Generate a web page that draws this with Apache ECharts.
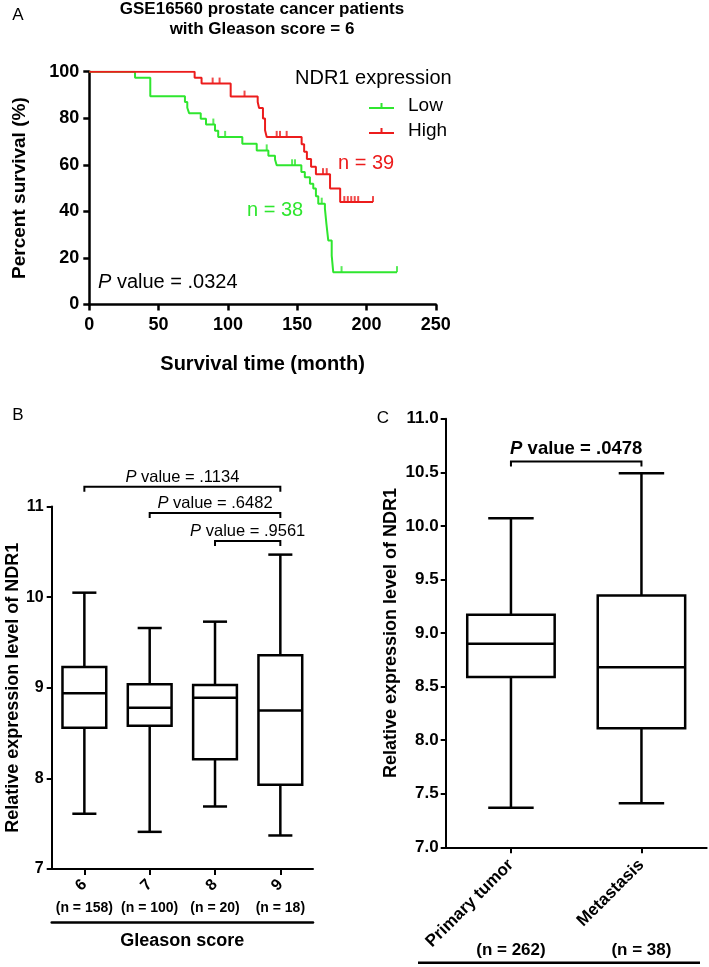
<!DOCTYPE html>
<html><head><meta charset="utf-8">
<script src="https://cdn.jsdelivr.net/npm/echarts@6/dist/echarts.min.js"></script>
<style>html,body{margin:0;padding:0;background:#fff}#c{width:709px;height:967px}</style>
</head><body><div id="c"></div>
<script>
const FONT = '"Liberation Sans", Arial, Helvetica, sans-serif';
const GREEN = '#2fe62f';
const RED = '#ec1c1c';

// ---------- Panel A: Kaplan-Meier ----------
const lowTimes  = [0, 33, 44, 69, 70.7, 72, 80.4, 84.2, 90.7, 93, 110.4, 120.8, 129.2, 134, 135.2, 153, 155.5, 159.2, 161.6, 163.5, 165.2, 170, 171.1, 172.4, 174.9, 176, 222];
const lowSurv   = [100, 97.4, 89.5, 87.0, 84.5, 82.2, 79.8, 77.3, 74.6, 72.0, 69.1, 66.2, 63.9, 62.3, 59.8, 56.9, 54.7, 51.9, 49.8, 46.5, 43.3, 41.2, 34.5, 27.5, 21.0, 13.9, 13.9];
const lowCensor = [89.5, 98, 128, 146.3, 148.4, 167.7, 182, 222];

const highTimes  = [0, 76, 81, 102, 121.5, 122.5, 125.3, 126.8, 128, 153.2, 155, 157, 160, 163.5, 173.7, 181, 204.7];
const highSurv   = [100, 97.4, 94.9, 89.3, 87.0, 84.4, 79.9, 74.8, 72.0, 68.8, 65.6, 62.5, 59.2, 56.0, 49.8, 44.0, 44.0];
const highCensor = [89, 94, 112, 135.2, 137.6, 142.4, 168.6, 171.3, 184, 186.5, 189, 191.5, 194, 204.7];

// ---------- Panel B: Gleason score boxplots ----------
const gleasonCats = ['6', '7', '8', '9'];
const gleasonN    = ['(n = 158)', '(n = 100)', '(n = 20)', '(n = 18)'];
const gMin = [7.61, 7.41, 7.69, 7.37];
const gQ1  = [8.56, 8.58, 8.21, 7.93];
const gMed = [8.94, 8.78, 8.89, 8.75];
const gQ3  = [9.23, 9.04, 9.03, 9.36];
const gMax = [10.05, 9.66, 9.73, 10.47];
const gPFrom  = [0, 1, 2];
const gPTo    = [3, 3, 3];
const gPLevel = [11.22, 10.93, 10.62];
const gPText  = ['.1134', '.6482', '.9561'];

// ---------- Panel C: Primary vs Metastasis ----------
const tissueCats = ['Primary tumor', 'Metastasis'];
const tissueN    = ['(n = 262)', '(n = 38)'];
const tMin = [7.37, 7.41];
const tQ1  = [8.59, 8.11];
const tMed = [8.90, 8.68];
const tQ3  = [9.17, 9.35];
const tMax = [10.07, 10.49];
const tPFrom = [0], tPTo = [1], tPLevel = [10.60], tPText = ['.0478'];

function stepAt(times, surv, t) {
  let s = surv[0];
  for (let i = 0; i < times.length; i++) if (times[i] <= t) s = surv[i];
  return s;
}

function makeBox(lw, boxFrac, capFrac) {
  return function (params, api) {
    const c = api.value(0);
    const mn = api.value(1), q1 = api.value(2), md = api.value(3), q3 = api.value(4), mx = api.value(5);
    const band = api.size([1, 0])[0];
    const bw = band * boxFrac, cw = bw * capFrac;
    const cx = api.coord([c, md])[0];
    const y = v => api.coord([c, v])[1];
    const st = { stroke: '#000', lineWidth: lw, fill: null };
    return { type: 'group', children: [
      { type: 'line', shape: { x1: cx, y1: y(q3), x2: cx, y2: y(mx) }, style: st },
      { type: 'line', shape: { x1: cx - cw / 2, y1: y(mx), x2: cx + cw / 2, y2: y(mx) }, style: st },
      { type: 'line', shape: { x1: cx, y1: y(q1), x2: cx, y2: y(mn) }, style: st },
      { type: 'line', shape: { x1: cx - cw / 2, y1: y(mn), x2: cx + cw / 2, y2: y(mn) }, style: st },
      { type: 'rect', shape: { x: cx - bw / 2, y: y(q3), width: bw, height: y(q1) - y(q3) }, style: { stroke: '#000', lineWidth: lw, fill: '#fff' } },
      { type: 'line', shape: { x1: cx - bw / 2, y1: y(md), x2: cx + bw / 2, y2: y(md) }, style: st }
    ]};
  };
}

function makeBracket(labels, fontSize, weight, lw, tick, gap) {
  return function (params, api) {
    const a = api.coord([api.value(0), api.value(2)]);
    const b = api.coord([api.value(1), api.value(2)]);
    return { type: 'group', children: [
      { type: 'polyline', shape: { points: [[a[0], a[1] + tick], [a[0], a[1]], [b[0], b[1]], [b[0], b[1] + tick]] },
        style: { stroke: '#000', lineWidth: lw, fill: null } },
      { type: 'text', x: (a[0] + b[0]) / 2, y: a[1] - gap,
        style: { text: '{p|P} value = ' + labels[params.dataIndex], fill: '#000', fontFamily: FONT, fontSize: fontSize,
          fontWeight: weight, align: 'center', verticalAlign: 'bottom',
          rich: { p: { fontStyle: 'italic', fontSize: fontSize, fontFamily: FONT, fontWeight: weight, fill: '#000' } } } }
    ]};
  };
}

const axisLineBlack = w => ({ show: true, lineStyle: { color: '#000', width: w } });
const tickBlack = (w, len) => ({ show: true, length: len, lineStyle: { color: '#000', width: w } });
const lbl = (size, extra) => Object.assign({ color: '#000', fontFamily: FONT, fontSize: size, fontWeight: 'bold' }, extra || {});

const chart = echarts.init(document.getElementById('c'), null, { renderer: 'canvas' });

const option = {
  animation: false,
  backgroundColor: '#fff',
  textStyle: { fontFamily: FONT },
  grid: [
    { left: 89.3, top: 71.7, width: 346.5, height: 232.8, containLabel: false, outerBoundsMode: 'none' },
    { left: 51.7, top: 506.6, width: 261.3, height: 362.4, containLabel: false, outerBoundsMode: 'none' },
    { left: 445.7, top: 418.7, width: 261, height: 428.6, containLabel: false, outerBoundsMode: 'none' }
  ],
  legend: {
    data: ['Low', 'High'], orient: 'vertical', left: 364, top: 91, itemGap: 5,
    itemWidth: 25, itemHeight: 7,
    icon: 'path://M0,5H25V7H0Z M11.5,1H13.5V5H11.5Z',
    textStyle: { color: '#000', fontFamily: FONT, fontSize: 19, lineHeight: 20, padding: [0, 0, 0, 9] },
    selectedMode: false
  },
  xAxis: [
    { gridIndex: 0, type: 'value', min: 0, max: 250, interval: 50,
      axisLine: axisLineBlack(2.5), axisTick: tickBlack(2.5, 6), splitLine: { show: false },
      axisLabel: lbl(18, { margin: 12 }),
      name: 'Survival time (month)', nameLocation: 'middle', nameGap: 50,
      nameTextStyle: lbl(20) },
    { gridIndex: 1, type: 'category', data: gleasonCats, position: 'bottom',
      axisLine: axisLineBlack(2), axisTick: Object.assign(tickBlack(2, 6), { alignWithLabel: true }),
      axisLabel: lbl(16, { rotate: 45, margin: 13, interval: 0 }), splitLine: { show: false } },
    { gridIndex: 1, type: 'category', data: gleasonN, position: 'bottom',
      axisLine: { show: false }, axisTick: { show: false },
      axisLabel: lbl(14, { margin: 32, interval: 0 }), splitLine: { show: false } },
    { gridIndex: 1, type: 'category', data: gleasonN, position: 'bottom', offset: 53.7,
      axisLine: axisLineBlack(2.5), axisTick: { show: false }, axisLabel: { show: false },
      name: 'Gleason score', nameLocation: 'middle', nameGap: 9,
      nameTextStyle: Object.assign(lbl(18), { verticalAlign: 'top' }) },
    { gridIndex: 2, type: 'category', data: tissueCats, position: 'bottom',
      axisLine: axisLineBlack(2), axisTick: Object.assign(tickBlack(2, 6), { alignWithLabel: true }),
      axisLabel: lbl(17, { rotate: 45, margin: 15, interval: 0 }), splitLine: { show: false } },
    { gridIndex: 2, type: 'category', data: tissueN, position: 'bottom',
      axisLine: { show: false }, axisTick: { show: false },
      axisLabel: lbl(17, { margin: 95, interval: 0 }), splitLine: { show: false } }
  ],
  yAxis: [
    { gridIndex: 0, type: 'value', min: 0, max: 100, interval: 20,
      axisLine: axisLineBlack(2.5), axisTick: tickBlack(2.5, 6), splitLine: { show: false },
      axisLabel: lbl(18, { margin: 10 }),
      name: 'Percent survival (%)', nameLocation: 'middle', nameGap: 60, nameRotate: 90,
      nameTextStyle: lbl(19) },
    { gridIndex: 1, type: 'value', min: 7, max: 11, interval: 1,
      axisLine: axisLineBlack(2), axisTick: tickBlack(2, 5), splitLine: { show: false },
      axisLabel: lbl(16, { margin: 8 }),
      name: 'Relative expression level of NDR1', nameLocation: 'middle', nameGap: 30, nameRotate: 90,
      nameTextStyle: lbl(18) },
    { gridIndex: 2, type: 'value', min: 7, max: 11, interval: 0.5,
      axisLine: axisLineBlack(2), axisTick: tickBlack(2, 5), splitLine: { show: false },
      axisLabel: lbl(17, { margin: 7, formatter: v => v.toFixed(1) }),
      name: 'Relative expression level of NDR1', nameLocation: 'middle', nameGap: 46, nameRotate: 90,
      nameTextStyle: lbl(18) }
  ],
  series: [
    { name: 'Low', type: 'line', xAxisIndex: 0, yAxisIndex: 0, step: 'end', symbol: 'none', showSymbol: false,
      itemStyle: { color: GREEN }, lineStyle: { color: GREEN, width: 2 },
      data: lowTimes.map((t, i) => [t, lowSurv[i]]) },
    { name: 'High', type: 'line', xAxisIndex: 0, yAxisIndex: 0, step: 'end', symbol: 'none', showSymbol: false,
      itemStyle: { color: RED }, lineStyle: { color: RED, width: 2 },
      data: highTimes.map((t, i) => [t, highSurv[i]]) },
    { name: 'LowCensor', type: 'scatter', xAxisIndex: 0, yAxisIndex: 0, symbol: 'rect', symbolSize: [2, 6], symbolOffset: [0, -3],
      itemStyle: { color: GREEN }, data: lowCensor.map(t => [t, stepAt(lowTimes, lowSurv, t)]) },
    { name: 'HighCensor', type: 'scatter', xAxisIndex: 0, yAxisIndex: 0, symbol: 'rect', symbolSize: [2, 6], symbolOffset: [0, -3],
      itemStyle: { color: RED }, data: highCensor.map(t => [t, stepAt(highTimes, highSurv, t)]) },
    { type: 'custom', xAxisIndex: 1, yAxisIndex: 1, clip: false,
      renderItem: makeBox(2.5, 0.67, 0.55), encode: { x: 0, y: [1, 2, 3, 4, 5] },
      data: gleasonCats.map((c, i) => [i, gMin[i], gQ1[i], gMed[i], gQ3[i], gMax[i]]) },
    { type: 'custom', xAxisIndex: 1, yAxisIndex: 1, clip: false,
      renderItem: makeBracket(gPText, 16.5, 'normal', 2, 5, 1), encode: { x: [0, 1], y: 2 },
      data: gPFrom.map((f, i) => [f, gPTo[i], gPLevel[i]]) },
    { type: 'custom', xAxisIndex: 4, yAxisIndex: 2, clip: false,
      renderItem: makeBox(2.5, 0.67, 0.52), encode: { x: 0, y: [1, 2, 3, 4, 5] },
      data: tissueCats.map((c, i) => [i, tMin[i], tQ1[i], tMed[i], tQ3[i], tMax[i]]) },
    { type: 'custom', xAxisIndex: 4, yAxisIndex: 2, clip: false,
      renderItem: makeBracket(tPText, 18.5, 'bold', 2, 5, 3), encode: { x: [0, 1], y: 2 },
      data: tPFrom.map((f, i) => [f, tPTo[i], tPLevel[i]]) }
  ],
  graphic: [
    { type: 'text', x: 18, y: 15, style: { text: 'A', fill: '#000', font: '17px ' + FONT, align: 'center', verticalAlign: 'middle' } },
    { type: 'text', x: 18, y: 415, style: { text: 'B', fill: '#000', font: '17px ' + FONT, align: 'center', verticalAlign: 'middle' } },
    { type: 'text', x: 383, y: 418, style: { text: 'C', fill: '#000', font: '17px ' + FONT, align: 'center', verticalAlign: 'middle' } },
    { type: 'text', x: 262, y: 9, style: { text: 'GSE16560 prostate cancer patients', fill: '#000', font: 'bold 17px ' + FONT, align: 'center', verticalAlign: 'middle' } },
    { type: 'text', x: 262, y: 29, style: { text: 'with Gleason score = 6', fill: '#000', font: 'bold 17px ' + FONT, align: 'center', verticalAlign: 'middle' } },
    { type: 'text', x: 295, y: 78, style: { text: 'NDR1 expression', fill: '#000', font: '20px ' + FONT, align: 'left', verticalAlign: 'middle' } },
    { type: 'text', x: 338, y: 163, style: { text: 'n = 39', fill: RED, font: '20px ' + FONT, align: 'left', verticalAlign: 'middle' } },
    { type: 'text', x: 247, y: 210, style: { text: 'n = 38', fill: GREEN, font: '20px ' + FONT, align: 'left', verticalAlign: 'middle' } },
    { type: 'text', x: 98, y: 282, style: { text: '{p|P} value = .0324', fill: '#000', fontFamily: FONT, fontSize: 20, align: 'left', verticalAlign: 'middle',
      rich: { p: { fontStyle: 'italic', fontSize: 20, fontFamily: FONT, fill: '#000' } } } },
    { type: 'line', shape: { x1: 418, y1: 962.7, x2: 700, y2: 962.7 }, style: { stroke: '#000', lineWidth: 2.5 } }
  ]
};
chart.setOption(option);
</script>
</body></html>
